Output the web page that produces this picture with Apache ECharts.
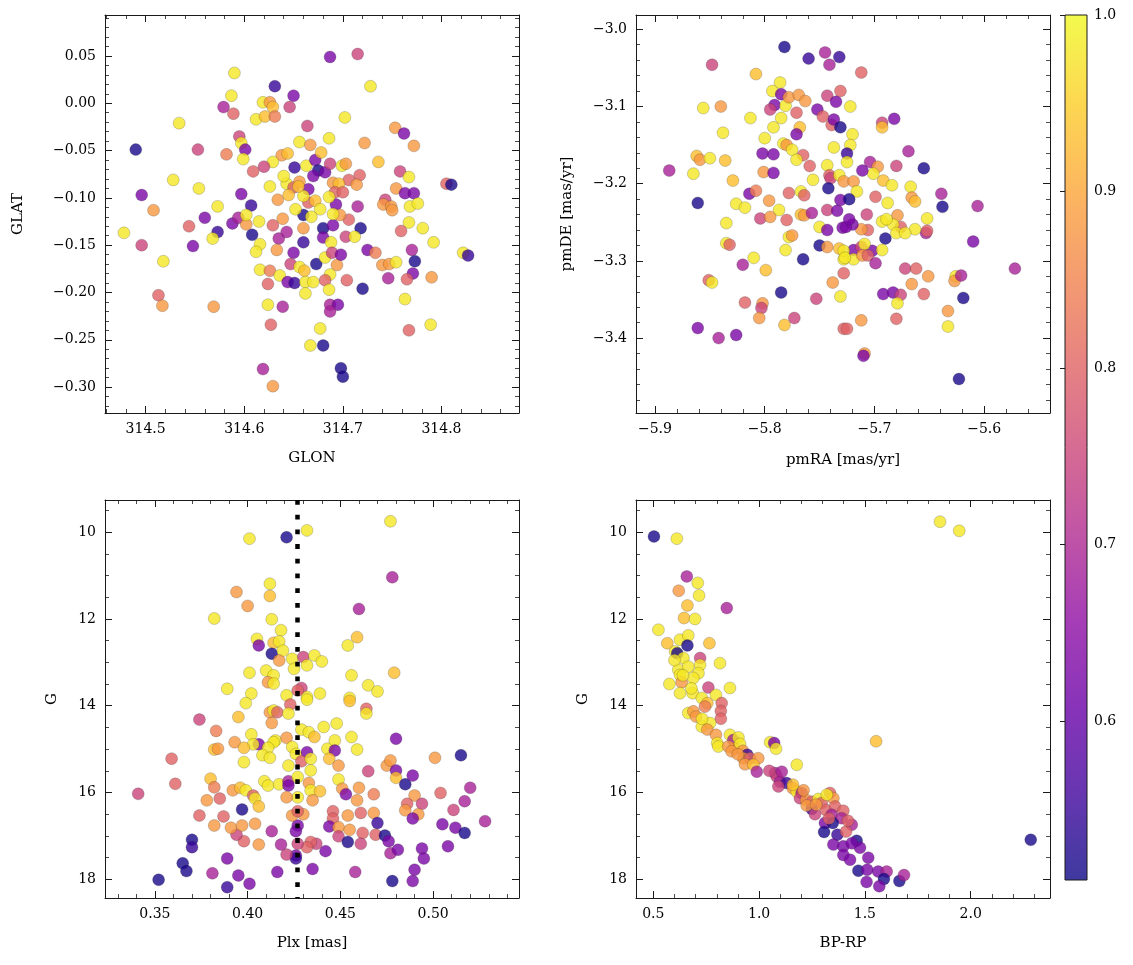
<!DOCTYPE html>
<html><head><meta charset="utf-8">
<script src="https://cdn.jsdelivr.net/npm/echarts@6/dist/echarts.min.js"></script>
<style>html,body{margin:0;padding:0;background:#fff}#c{width:1133px;height:965px}</style>
</head><body><div id="c"></div>
<script>
// ---- data: [x, y, membership probability] ----
const glonGlatProb = [
[314.590,0.032,0.98],[314.631,0.018,0.55],[314.650,0.008,0.63],[314.587,0.008,0.98],[314.579,-0.004,0.69],
[314.589,-0.011,0.80],[314.619,0.001,0.98],[314.626,0.001,0.88],[314.629,-0.004,0.93],[314.612,-0.017,0.98],
[314.621,-0.014,0.93],[314.631,-0.014,0.84],[314.646,-0.004,0.75],[314.534,-0.021,0.98],[314.664,-0.024,0.75],
[314.595,-0.035,0.75],[314.597,-0.042,0.98],[314.601,-0.049,0.63],[314.599,-0.059,0.98],[314.582,-0.054,0.84],
[314.490,-0.049,0.52],[314.553,-0.049,0.75],[314.656,-0.041,0.98],[314.667,-0.044,0.88],[314.638,-0.055,0.88],
[314.644,-0.053,0.93],[314.629,-0.062,0.98],[314.620,-0.067,0.75],[314.609,-0.072,0.80],[314.651,-0.068,0.55],
[314.663,-0.066,0.98],[314.672,-0.060,0.63],[314.528,-0.081,0.98],[314.554,-0.090,0.98],[314.496,-0.097,0.63],
[314.597,-0.096,0.63],[314.607,-0.108,0.55],[314.626,-0.088,0.98],[314.643,-0.085,0.98],[314.650,-0.089,0.80],
[314.656,-0.083,0.88],[314.665,-0.091,0.63],[314.634,-0.102,0.88],[314.573,-0.109,0.98],[314.508,-0.113,0.88],
[314.665,-0.105,0.80],[314.687,0.049,0.63],[314.715,0.052,0.75],[314.728,0.018,0.98],[314.702,-0.015,0.98],
[314.753,-0.026,0.88],[314.762,-0.032,0.63],[314.772,-0.045,0.88],[314.686,-0.037,0.98],[314.722,-0.042,0.88],
[314.736,-0.062,0.93],[314.678,-0.052,0.93],[314.675,-0.071,0.52],[314.682,-0.073,0.63],[314.687,-0.064,0.75],
[314.699,-0.066,0.98],[314.703,-0.064,0.88],[314.670,-0.077,0.63],[314.717,-0.076,0.80],[314.706,-0.081,0.80],
[314.714,-0.086,0.88],[314.690,-0.084,0.88],[314.696,-0.085,0.93],[314.692,-0.094,0.80],[314.700,-0.094,0.80],
[314.758,-0.072,0.75],[314.767,-0.078,0.98],[314.805,-0.085,0.80],[314.810,-0.086,0.52],[314.754,-0.090,0.88],
[314.763,-0.095,0.63],[314.772,-0.095,0.63],[314.743,-0.102,0.75],[314.741,-0.107,0.88],[314.749,-0.109,0.88],
[314.768,-0.109,0.98],[314.776,-0.106,0.98],[314.693,-0.107,0.63],[314.715,-0.109,0.69],[314.478,-0.137,0.98],
[314.496,-0.150,0.75],[314.518,-0.167,0.98],[314.544,-0.130,0.80],[314.560,-0.121,0.63],[314.548,-0.151,0.63],
[314.573,-0.136,0.55],[314.568,-0.143,0.98],[314.588,-0.127,0.63],[314.594,-0.121,0.69],[314.602,-0.128,0.88],
[314.602,-0.118,0.98],[314.608,-0.139,0.52],[314.616,-0.149,0.98],[314.612,-0.157,0.98],[314.615,-0.125,0.98],
[314.629,-0.129,0.80],[314.639,-0.122,0.88],[314.635,-0.143,0.69],[314.643,-0.136,0.69],[314.633,-0.155,0.88],
[314.650,-0.158,0.63],[314.660,-0.118,0.52],[314.660,-0.132,0.88],[314.660,-0.147,0.55],[314.647,-0.170,0.75],
[314.656,-0.173,0.98],[314.616,-0.176,0.98],[314.626,-0.177,0.84],[314.636,-0.182,0.98],[314.661,-0.177,0.93],
[314.644,-0.189,0.63],[314.651,-0.190,0.55],[314.662,-0.189,0.98],[314.662,-0.201,0.98],[314.624,-0.191,0.80],
[314.513,-0.203,0.80],[314.517,-0.214,0.88],[314.569,-0.215,0.88],[314.624,-0.213,0.98],[314.639,-0.215,0.69],
[314.627,-0.234,0.80],[314.667,-0.256,0.98],[314.619,-0.281,0.69],[314.629,-0.299,0.88],[314.750,-0.113,0.88],
[314.767,-0.126,0.98],[314.781,-0.132,0.98],[314.792,-0.147,0.98],[314.759,-0.135,0.80],[314.822,-0.158,0.98],
[314.827,-0.161,0.55],[314.680,-0.132,0.52],[314.690,-0.129,0.63],[314.680,-0.142,0.63],[314.706,-0.123,0.80],
[314.703,-0.141,0.75],[314.718,-0.132,0.52],[314.712,-0.141,0.98],[314.688,-0.147,0.98],[314.697,-0.118,0.88],
[314.725,-0.155,0.63],[314.733,-0.158,0.84],[314.740,-0.171,0.88],[314.747,-0.170,0.88],[314.754,-0.168,0.98],
[314.746,-0.185,0.69],[314.770,-0.155,0.69],[314.773,-0.167,0.52],[314.771,-0.180,0.63],[314.765,-0.186,0.80],
[314.790,-0.184,0.88],[314.673,-0.170,0.52],[314.682,-0.163,0.98],[314.694,-0.171,0.88],[314.689,-0.158,0.75],
[314.698,-0.160,0.63],[314.687,-0.181,0.98],[314.682,-0.187,0.80],[314.670,-0.189,0.98],[314.686,-0.197,0.98],
[314.704,-0.187,0.80],[314.720,-0.196,0.52],[314.687,-0.213,0.69],[314.695,-0.213,0.63],[314.687,-0.220,0.69],
[314.763,-0.207,0.98],[314.789,-0.234,0.98],[314.767,-0.240,0.80],[314.677,-0.238,0.98],[314.680,-0.256,0.52],
[314.698,-0.280,0.52],[314.700,-0.289,0.52],[314.660,-0.098,0.98],[314.652,-0.112,0.98],[314.672,-0.103,0.93],
[314.677,-0.112,0.98],[314.668,-0.120,0.98],[314.645,-0.097,0.93],[314.686,-0.099,0.98],[314.690,-0.117,0.98],
[314.640,-0.077,0.98],[314.655,-0.088,0.93]
];
const pmraPmdeProb = [
[-5.782,-3.023,0.52],[-5.760,-3.038,0.55],[-5.745,-3.030,0.69],[-5.741,-3.046,0.69],[-5.732,-3.036,0.55],
[-5.848,-3.046,0.75],[-5.808,-3.058,0.93],[-5.786,-3.069,0.98],[-5.793,-3.080,0.98],[-5.785,-3.084,0.63],
[-5.856,-3.102,0.98],[-5.840,-3.100,0.88],[-5.791,-3.098,0.63],[-5.795,-3.104,0.75],[-5.781,-3.099,0.98],
[-5.778,-3.088,0.88],[-5.769,-3.085,0.88],[-5.763,-3.093,0.88],[-5.771,-3.108,0.80],[-5.752,-3.104,0.63],
[-5.743,-3.086,0.75],[-5.731,-3.080,0.80],[-5.735,-3.094,0.63],[-5.747,-3.113,0.80],[-5.739,-3.124,0.80],
[-5.737,-3.117,0.63],[-5.731,-3.127,0.52],[-5.813,-3.115,0.98],[-5.792,-3.127,0.98],[-5.785,-3.115,0.98],
[-5.768,-3.127,0.93],[-5.771,-3.136,0.63],[-5.838,-3.134,0.98],[-5.800,-3.141,0.98],[-5.783,-3.148,0.98],
[-5.780,-3.150,0.88],[-5.775,-3.156,0.98],[-5.765,-3.163,0.80],[-5.737,-3.153,0.98],[-5.802,-3.161,0.63],
[-5.792,-3.162,0.63],[-5.862,-3.164,0.93],[-5.859,-3.169,0.88],[-5.850,-3.167,0.98],[-5.836,-3.170,0.93],
[-5.771,-3.169,0.98],[-5.759,-3.177,0.80],[-5.743,-3.176,0.98],[-5.887,-3.183,0.69],[-5.865,-3.187,0.98],
[-5.829,-3.196,0.93],[-5.801,-3.185,0.88],[-5.792,-3.186,0.63],[-5.756,-3.195,0.98],[-5.741,-3.189,0.80],
[-5.740,-3.193,0.75],[-5.742,-3.206,0.52],[-5.732,-3.189,0.98],[-5.814,-3.213,0.63],[-5.808,-3.209,0.84],
[-5.778,-3.212,0.80],[-5.767,-3.210,0.98],[-5.764,-3.215,0.80],[-5.861,-3.225,0.52],[-5.826,-3.226,0.98],
[-5.818,-3.231,0.98],[-5.796,-3.222,0.88],[-5.731,-3.221,0.63],[-5.712,-3.056,0.80],[-5.722,-3.100,0.98],
[-5.693,-3.121,0.75],[-5.693,-3.127,0.93],[-5.682,-3.116,0.63],[-5.720,-3.136,0.98],[-5.722,-3.150,0.98],
[-5.725,-3.161,0.55],[-5.725,-3.172,0.98],[-5.669,-3.158,0.69],[-5.655,-3.180,0.52],[-5.680,-3.177,0.75],
[-5.704,-3.172,0.69],[-5.697,-3.178,0.88],[-5.701,-3.187,0.98],[-5.711,-3.183,0.63],[-5.692,-3.196,0.93],
[-5.684,-3.202,0.98],[-5.728,-3.197,0.88],[-5.719,-3.197,0.88],[-5.716,-3.210,0.98],[-5.667,-3.204,0.98],
[-5.666,-3.218,0.88],[-5.663,-3.223,0.93],[-5.639,-3.213,0.69],[-5.638,-3.230,0.52],[-5.606,-3.229,0.69],
[-5.699,-3.217,0.80],[-5.688,-3.225,0.98],[-5.723,-3.220,0.52],[-5.835,-3.251,0.98],[-5.787,-3.234,0.98],
[-5.804,-3.245,0.75],[-5.795,-3.243,0.88],[-5.780,-3.247,0.80],[-5.767,-3.240,0.93],[-5.764,-3.241,0.88],
[-5.757,-3.238,0.69],[-5.743,-3.234,0.75],[-5.734,-3.235,0.63],[-5.750,-3.256,0.98],[-5.743,-3.260,0.63],
[-5.729,-3.257,0.63],[-5.835,-3.277,0.98],[-5.832,-3.279,0.80],[-5.778,-3.269,0.98],[-5.775,-3.267,0.88],
[-5.781,-3.286,0.98],[-5.750,-3.280,0.52],[-5.743,-3.282,0.88],[-5.732,-3.284,0.93],[-5.728,-3.298,0.98],
[-5.765,-3.298,0.52],[-5.810,-3.296,0.98],[-5.820,-3.305,0.69],[-5.799,-3.312,0.93],[-5.851,-3.325,0.80],
[-5.848,-3.328,0.98],[-5.785,-3.341,0.52],[-5.818,-3.354,0.80],[-5.802,-3.355,0.88],[-5.803,-3.361,0.75],
[-5.805,-3.374,0.88],[-5.753,-3.349,0.75],[-5.738,-3.328,0.88],[-5.731,-3.346,0.98],[-5.782,-3.383,0.93],
[-5.773,-3.374,0.75],[-5.728,-3.388,0.80],[-5.728,-3.316,0.80],[-5.861,-3.387,0.63],[-5.842,-3.400,0.69],
[-5.826,-3.396,0.63],[-5.652,-3.245,0.98],[-5.653,-3.264,0.69],[-5.652,-3.261,0.80],[-5.663,-3.259,0.98],
[-5.679,-3.241,0.88],[-5.676,-3.256,0.80],[-5.683,-3.253,0.98],[-5.690,-3.271,0.52],[-5.693,-3.249,0.98],
[-5.689,-3.246,0.98],[-5.680,-3.264,0.98],[-5.672,-3.264,0.98],[-5.707,-3.240,0.75],[-5.706,-3.260,0.80],
[-5.712,-3.259,0.88],[-5.720,-3.253,0.63],[-5.726,-3.256,0.63],[-5.723,-3.246,0.63],[-5.702,-3.287,0.63],
[-5.719,-3.286,0.63],[-5.712,-3.282,0.75],[-5.709,-3.278,0.98],[-5.693,-3.286,0.98],[-5.728,-3.287,0.98],
[-5.719,-3.298,0.98],[-5.727,-3.296,0.98],[-5.711,-3.293,0.88],[-5.706,-3.293,0.80],[-5.699,-3.303,0.69],
[-5.672,-3.310,0.75],[-5.662,-3.310,0.80],[-5.666,-3.330,0.88],[-5.651,-3.320,0.88],[-5.692,-3.343,0.63],
[-5.683,-3.341,0.63],[-5.676,-3.344,0.75],[-5.679,-3.355,0.98],[-5.655,-3.343,0.80],[-5.626,-3.320,0.98],
[-5.627,-3.326,0.88],[-5.621,-3.319,0.69],[-5.610,-3.275,0.63],[-5.572,-3.310,0.69],[-5.619,-3.348,0.52],
[-5.633,-3.365,0.88],[-5.633,-3.385,0.98],[-5.680,-3.375,0.80],[-5.712,-3.377,0.88],[-5.725,-3.388,0.80],
[-5.709,-3.420,0.88],[-5.710,-3.423,0.63],[-5.623,-3.453,0.52]
];
const plxGProb = [
[0.401,10.15,0.98],[0.421,10.12,0.52],[0.432,9.96,0.98],[0.412,11.19,0.98],[0.394,11.38,0.88],
[0.412,11.47,0.93],[0.400,11.70,0.88],[0.382,11.99,0.98],[0.413,12.01,0.98],[0.418,12.26,0.98],
[0.405,12.46,0.98],[0.406,12.61,0.63],[0.414,12.55,0.93],[0.417,12.52,0.98],[0.413,12.80,0.52],
[0.419,12.73,0.98],[0.417,12.96,0.88],[0.424,12.92,0.98],[0.430,12.88,0.75],[0.432,13.07,0.98],
[0.425,13.15,0.98],[0.401,13.24,0.98],[0.410,13.19,0.98],[0.414,13.30,0.98],[0.411,13.46,0.88],
[0.414,13.49,0.98],[0.429,13.59,0.75],[0.389,13.61,0.98],[0.402,13.72,0.98],[0.421,13.76,0.98],
[0.432,13.80,0.98],[0.477,9.75,0.98],[0.478,11.04,0.69],[0.460,11.77,0.69],[0.459,12.42,0.93],
[0.454,12.61,0.98],[0.436,12.84,0.98],[0.440,12.98,0.98],[0.456,13.30,0.98],[0.479,13.24,0.93],
[0.465,13.53,0.98],[0.470,13.67,0.98],[0.439,13.72,0.98],[0.455,13.82,0.98],[0.427,13.65,0.80],
[0.399,13.94,0.98],[0.423,13.97,0.80],[0.432,13.86,0.98],[0.455,13.89,0.93],[0.464,14.07,0.80],
[0.464,14.18,0.98],[0.374,14.32,0.75],[0.395,14.26,0.93],[0.412,14.15,0.88],[0.414,14.11,0.98],
[0.416,14.15,0.80],[0.413,14.40,0.88],[0.422,14.18,0.98],[0.383,14.58,0.84],[0.402,14.66,0.98],
[0.415,14.80,0.98],[0.421,14.74,0.88],[0.429,14.55,0.98],[0.433,14.61,0.98],[0.436,14.72,0.93],
[0.441,14.49,0.98],[0.448,14.41,0.98],[0.393,14.84,0.88],[0.406,14.89,0.63],[0.414,14.84,0.98],
[0.411,14.97,0.98],[0.403,14.89,0.98],[0.398,14.97,0.93],[0.382,15.01,0.93],[0.384,14.99,0.88],
[0.359,15.22,0.80],[0.424,14.95,0.98],[0.426,15.11,0.98],[0.432,15.07,0.63],[0.429,15.28,0.80],
[0.434,15.22,0.98],[0.443,14.99,0.98],[0.447,14.80,0.98],[0.447,15.03,0.63],[0.444,15.22,0.93],
[0.449,15.38,0.88],[0.456,14.72,0.98],[0.459,15.01,0.98],[0.398,15.30,0.98],[0.408,15.14,0.98],
[0.412,15.20,0.98],[0.422,15.38,0.98],[0.434,15.49,0.98],[0.361,15.80,0.80],[0.380,15.68,0.93],
[0.382,15.88,0.84],[0.392,15.95,0.88],[0.396,15.89,0.93],[0.399,15.95,0.98],[0.409,15.74,0.98],
[0.411,15.84,0.98],[0.417,15.81,0.98],[0.422,15.74,0.69],[0.422,15.84,0.63],[0.427,15.64,0.98],
[0.433,15.78,0.88],[0.434,15.95,0.98],[0.439,15.97,0.93],[0.427,16.11,0.98],[0.421,16.11,0.88],
[0.435,16.18,0.88],[0.403,16.07,0.80],[0.404,16.14,0.98],[0.406,16.32,0.93],[0.378,16.18,0.88],
[0.385,16.14,0.80],[0.397,16.39,0.52],[0.449,15.70,0.98],[0.451,15.91,0.88],[0.453,16.04,0.63],
[0.460,15.89,0.88],[0.459,16.18,0.88],[0.468,16.04,0.84],[0.465,15.51,0.75],[0.475,15.38,0.88],
[0.477,15.26,0.88],[0.480,15.49,0.63],[0.480,15.66,0.93],[0.485,15.81,0.52],[0.489,15.61,0.63],
[0.480,14.76,0.63],[0.501,15.20,0.88],[0.515,15.14,0.52],[0.504,16.01,0.80],[0.520,15.89,0.69],
[0.517,16.20,0.69],[0.511,16.40,0.75],[0.528,16.66,0.69],[0.505,16.73,0.63],[0.512,16.81,0.63],
[0.517,16.93,0.52],[0.508,17.24,0.63],[0.490,16.07,0.88],[0.494,16.26,0.75],[0.486,16.26,0.80],
[0.485,16.41,0.88],[0.492,16.50,0.88],[0.489,16.60,0.63],[0.468,16.47,0.88],[0.461,16.47,0.80],
[0.454,16.53,0.88],[0.446,16.43,0.80],[0.446,16.60,0.80],[0.444,16.78,0.63],[0.449,16.80,0.88],
[0.455,16.86,0.88],[0.449,17.01,0.75],[0.462,16.93,0.80],[0.469,16.97,0.80],[0.470,16.70,0.55],
[0.474,16.99,0.52],[0.476,17.12,0.63],[0.454,17.14,0.52],[0.461,17.18,0.75],[0.477,17.40,0.69],
[0.481,17.32,0.63],[0.494,17.29,0.63],[0.495,17.52,0.63],[0.490,17.78,0.63],[0.489,18.04,0.63],
[0.478,18.04,0.52],[0.458,17.83,0.69],[0.442,17.35,0.63],[0.435,17.76,0.63],[0.437,17.18,0.75],
[0.434,17.14,0.80],[0.432,17.26,0.80],[0.427,17.18,0.75],[0.427,16.76,0.63],[0.426,16.89,0.63],
[0.426,17.45,0.63],[0.426,17.52,0.55],[0.421,17.43,0.75],[0.418,17.20,0.69],[0.413,16.89,0.69],
[0.424,16.53,0.88],[0.430,16.50,0.88],[0.427,16.43,0.80],[0.416,17.83,0.63],[0.406,17.20,0.88],
[0.404,16.72,0.88],[0.398,17.12,0.80],[0.394,16.97,0.75],[0.391,16.81,0.88],[0.397,16.76,0.88],
[0.387,16.55,0.80],[0.382,16.76,0.88],[0.374,16.53,0.80],[0.389,17.52,0.63],[0.381,17.86,0.69],
[0.395,17.91,0.63],[0.401,18.10,0.63],[0.389,18.18,0.55],[0.370,17.09,0.52],[0.370,17.26,0.55],
[0.365,17.63,0.52],[0.367,17.81,0.52],[0.352,18.01,0.52],[0.341,16.03,0.75]
];
const bprpGProb = [
[0.503,10.10,0.52],[0.611,10.15,0.98],[1.855,9.76,0.98],[1.946,9.97,0.98],[0.658,11.02,0.69],
[0.710,11.17,0.98],[0.620,11.35,0.88],[0.716,11.46,0.98],[0.847,11.75,0.69],[0.661,11.69,0.93],
[0.645,11.98,0.93],[0.697,12.00,0.98],[0.524,12.25,0.98],[0.566,12.56,0.93],[0.626,12.48,0.98],
[0.665,12.38,0.98],[0.661,12.61,0.52],[0.765,12.56,0.93],[0.603,12.75,0.98],[0.613,12.79,0.52],
[0.642,12.90,0.98],[0.721,12.90,0.75],[0.721,13.06,0.98],[0.815,13.02,0.98],[0.618,13.17,0.98],
[0.665,13.10,0.98],[0.713,13.25,0.98],[0.626,13.29,0.98],[0.689,13.36,0.98],[0.576,13.50,0.98],
[0.634,13.46,0.88],[0.760,13.58,0.75],[0.862,13.59,0.98],[0.626,13.71,0.98],[0.686,13.71,0.98],
[0.729,13.82,0.98],[0.755,13.94,0.93],[0.796,13.75,0.98],[0.823,13.94,0.80],[0.744,14.02,0.84],
[0.665,14.17,0.98],[0.689,14.13,0.88],[0.702,14.25,0.88],[0.819,14.12,0.80],[0.819,14.30,0.80],
[0.729,14.48,0.98],[0.768,14.40,0.98],[0.755,14.55,0.88],[0.796,14.67,0.88],[0.802,14.86,0.98],
[0.807,14.94,0.98],[0.862,14.67,0.98],[0.878,14.79,0.69],[0.902,14.73,0.98],[0.881,14.98,0.88],
[0.854,14.94,0.88],[0.910,14.88,0.98],[0.923,15.04,0.88],[0.944,15.13,0.55],[0.925,15.21,0.88],
[0.957,15.21,0.80],[0.996,15.21,0.88],[0.933,15.35,0.88],[0.973,15.36,0.93],[0.989,15.52,0.69],
[1.052,14.84,0.98],[1.071,14.86,0.63],[1.080,14.99,0.98],[1.178,15.36,0.98],[1.553,14.82,0.93],
[1.075,15.55,0.69],[1.083,15.63,0.75],[1.099,15.75,0.69],[1.130,15.78,0.55],[1.091,15.86,0.75],
[1.159,15.90,0.88],[1.178,15.98,0.98],[1.201,16.01,0.69],[1.193,16.13,0.75],[1.222,16.17,0.88],
[1.249,16.38,0.55],[1.249,16.21,0.80],[1.225,16.30,0.88],[1.280,16.15,0.98],[1.296,16.24,0.80],
[1.335,16.01,0.80],[1.351,16.13,0.88],[1.316,16.40,0.80],[1.359,16.32,0.80],[1.398,16.42,0.80],
[1.343,16.51,0.69],[1.264,16.50,0.75],[1.390,16.59,0.69],[1.438,16.74,0.69],[1.311,16.70,0.63],
[1.348,16.70,0.52],[1.307,16.91,0.52],[1.370,16.97,0.55],[1.411,16.90,0.80],[1.351,17.20,0.63],
[1.398,17.24,0.63],[1.461,17.11,0.52],[1.477,17.27,0.63],[1.438,17.17,0.63],[1.398,17.44,0.63],
[1.430,17.55,0.63],[1.516,17.50,0.63],[1.469,17.80,0.52],[1.511,17.78,0.63],[1.563,17.82,0.63],
[1.603,17.82,0.69],[1.590,17.99,0.52],[1.508,18.06,0.63],[1.568,18.16,0.63],[1.663,18.04,0.52],
[1.685,17.90,0.69],[2.284,17.09,0.52],[1.107,15.52,0.69],[1.048,15.50,0.75],[1.160,15.82,0.93],
[1.210,15.95,0.88],[1.320,16.05,0.98],[1.270,16.28,0.88],[1.420,16.65,0.80],[1.330,16.60,0.80],
[0.870,15.05,0.88],[0.900,15.12,0.88],[0.680,13.60,0.98],[0.600,12.95,0.98],[0.640,13.30,0.98],
[0.730,14.30,0.98]
];
const plxRef = 0.427;            // vertical dotted reference line (Plx)
const probRange = [0.51, 1.0];   // colour-bar range
const colorbarTicks = [0.6, 0.7, 0.8, 0.9, 1.0];
const axisTitles = {
  glon: 'GLON', glat: 'GLAT', pmra: 'pmRA [mas/yr]', pmde: 'pmDE [mas/yr]',
  plx: 'Plx [mas]', g: 'G', bprp: 'BP-RP'
};
// plasma colormap stops
const plasma = ['#0d0887','#41049d','#6a00a8','#8f0da4','#b12a90','#cc4778','#e16462','#f2844b','#fca636','#fcce25','#f0f921'];

// ---- layout / style ----
const FONT = 'DejaVu Serif';
const INK = '#1a1a1a';
const grids = [
  {left:105, top:15, width:414, height:398},
  {left:636, top:15, width:414, height:398},
  {left:105, top:500, width:414, height:398},
  {left:636, top:500, width:414, height:398},
  {left:1065, top:15, width:22, height:865}
];
function fmt(step, dec) {
  return function (v) {
    const k = v / step;
    if (Math.abs(k - Math.round(k)) > 1e-6) return '';
    return (Math.round(k) * step).toFixed(dec).replace('-', '\u2212');
  };
}
function axisPair(kind, gi, range, step, dec, splitNumber, minorSplit, name, nameGap, inverse) {
  const isX = kind === 'x';
  const common = {
    type: 'value', gridIndex: gi, min: range[0], max: range[1], splitNumber: splitNumber,
    inverse: !!inverse, scale: true,
    axisLine: {show: true, onZero: false, lineStyle: {color: INK, width: 1}},
    axisTick: {show: true, inside: true, length: 7, lineStyle: {color: INK, width: 1}},
    minorTick: {show: true, splitNumber: minorSplit, length: 4, lineStyle: {color: INK, width: 0.8}},
    splitLine: {show: false}, minorSplitLine: {show: false}
  };
  const main = Object.assign({}, common, {
    position: isX ? 'bottom' : 'left',
    name: name, nameLocation: 'middle', nameGap: nameGap,
    nameTextStyle: {fontFamily: FONT, fontSize: 15, color: '#000'},
    axisLabel: {show: true, color: '#000', fontFamily: FONT, fontSize: 14, margin: 9,
      formatter: fmt(step, dec), showMinLabel: true, showMaxLabel: true}
  });
  const mirror = Object.assign({}, common, {
    position: isX ? 'top' : 'right', axisLabel: {show: false}
  });
  return [main, mirror];
}

const xAxes = [].concat(
  axisPair('x', 0, [314.4588, 314.8786], 0.1, 1, 5, 5, axisTitles.glon, 38),
  axisPair('x', 1, [-5.9173, -5.540], 0.1, 1, 5, 5, axisTitles.pmra, 40),
  axisPair('x', 2, [0.3231, 0.5463], 0.05, 2, 5, 5, axisTitles.plx, 38),
  axisPair('x', 3, [0.418, 2.375], 0.5, 1, 4, 5, axisTitles.bprp, 38),
  [{type: 'value', gridIndex: 4, min: 0, max: 1, show: false}]
);
const yAxes = [].concat(
  axisPair('y', 0, [-0.3274, 0.0933], 0.05, 2, 8, 5, axisTitles.glat, 79),
  axisPair('y', 1, [-3.497, -2.9815], 0.1, 1, 5, 5, axisTitles.pmde, 61),
  axisPair('y', 2, [9.26, 18.43], 2, 0, 5, 4, axisTitles.g, 45, true),
  axisPair('y', 3, [9.26, 18.43], 2, 0, 5, 4, axisTitles.g, 45, true),
  [{type: 'value', gridIndex: 4, position: 'right', min: probRange[0], max: probRange[1], splitNumber: 5,
    axisLine: {show: false},
    axisTick: {show: true, inside: true, length: 5, lineStyle: {color: INK, width: 1},
      customValues: colorbarTicks},
    axisLabel: {show: true, color: '#000', fontFamily: FONT, fontSize: 14, margin: 7,
      formatter: fmt(0.1, 1), customValues: colorbarTicks},
    splitLine: {show: false}}]
);

function scatter(data, gi) {
  return {
    type: 'scatter', xAxisIndex: gi * 2, yAxisIndex: gi * 2, data: data,
    symbolSize: 12, animation: false, silent: true,
    itemStyle: {opacity: 0.8, borderColor: 'rgba(40,40,40,0.45)', borderWidth: 0.6}
  };
}
const s3 = scatter(plxGProb, 2);
s3.markLine = {
  silent: true, symbol: 'none', animation: false, z: 10, precision: 4,
  label: {show: false},
  lineStyle: {color: '#000', width: 4.5, type: [4.8, 9.9], cap: 'butt'},
  data: [{xAxis: plxRef}]
};

function rgba(hex, a) {
  const n = parseInt(hex.slice(1), 16);
  return 'rgba(' + ((n >> 16) & 255) + ',' + ((n >> 8) & 255) + ',' + (n & 255) + ',' + a + ')';
}
const cb = grids[4];
const option = {
  backgroundColor: '#fff',
  animation: false,
  grid: grids.map(g => Object.assign({containLabel: false, outerBoundsMode: 'none'}, g)),
  xAxis: xAxes,
  yAxis: yAxes,
  visualMap: {
    type: 'continuous', show: false, seriesIndex: [0, 1, 2, 3], dimension: 2,
    min: probRange[0], max: probRange[1], inRange: {color: plasma}
  },
  graphic: [{
    type: 'rect', z: -1,
    shape: {x: cb.left, y: cb.top, width: cb.width, height: cb.height},
    style: {
      fill: {type: 'linear', x: 0, y: 1, x2: 0, y2: 0,
        colorStops: plasma.map((c, i) => ({offset: i / (plasma.length - 1), color: rgba(c, 0.8)}))},
      stroke: INK, lineWidth: 1
    }
  }],
  series: [
    scatter(glonGlatProb, 0),
    scatter(pmraPmdeProb, 1),
    s3,
    scatter(bprpGProb, 3),
    {type: 'scatter', xAxisIndex: 8, yAxisIndex: 8, data: []}
  ]
};
const chart = echarts.init(document.getElementById('c'), null, {renderer: 'canvas'});
chart.setOption(option);
</script>
</body></html>
